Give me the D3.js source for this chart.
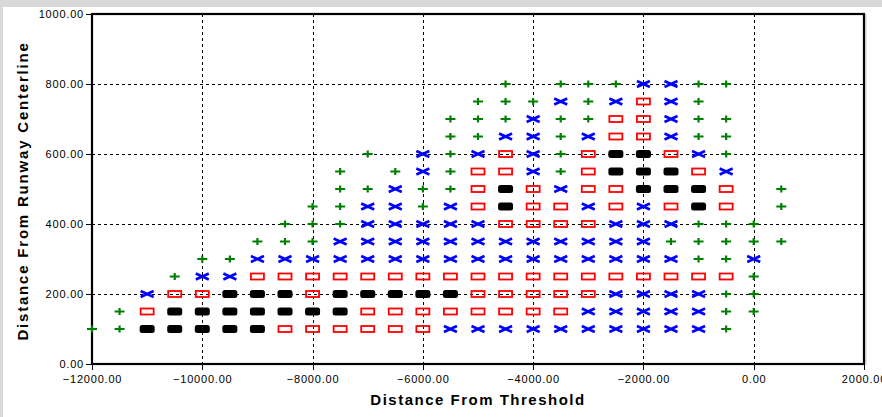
<!DOCTYPE html>
<html>
<head>
<meta charset="utf-8">
<script src="https://cdn.jsdelivr.net/npm/d3@7"></script>
<style>
  body { margin: 0; background: #fff; }
  svg { display: block; }
</style>
</head>
<body>
<svg width="882" height="417"></svg>
<script>
// column positions (distance from threshold) and row positions (distance from centerline)
var xValues = [-12000, -11500, -11000, -10500, -10000, -9500, -9000, -8500, -8000, -7500,
               -7000, -6500, -6000, -5500, -5000, -4500, -4000, -3500, -3000, -2500,
               -2000, -1500, -1000, -500, 0, 500];
var yValues = [100, 150, 200, 250, 300, 350, 400, 450, 500, 550, 600, 650, 700, 750, 800];

// one code per column: + green, x blue, o red box, b black, . empty
var rowCodes = [
    "++bbbbbooooooxxxxxxxxxx+..",
    ".+obbbbbbbooooooooxxxxx++.",
    "..xoobbbobbbbboooooxxxx++.",
    "...+xxoooooooooooooooooo+.",
    "....++xxxxxxxxxxxxxxxx++x.",
    "......+++xxxxxxxxxxxx+++++",
    ".......+++xxxxxooooxxx+++.",
    "........++xx+xobooxoxobo.+",
    ".........++x++oboxoobbbo.+",
    ".........+.+x+oox+obbbox..",
    "..........+.x+xox+obbox+..",
    ".............++xx+xoox++..",
    ".............+++x++oox++..",
    "..............+++x+xox+...",
    "...............+.+++xx++.."
];

var xTicks = [-12000, -10000, -8000, -6000, -4000, -2000, 0, 2000];
var yTicks = [0, 200, 400, 600, 800, 1000];

function main() {
    var svg = d3.select("svg");

    // grey window edges
    svg.append("rect").attr("x", 0).attr("y", 0).attr("width", 882).attr("height", 7).attr("fill", "#d9d9d9");
    svg.append("rect").attr("x", 0).attr("y", 0).attr("width", 3).attr("height", 417).attr("fill", "#d9d9d9");

    var left = 92, right = 864, top = 14, bottom = 364;
    var x = d3.scaleLinear().domain([-12000, 2000]).range([left, right]);
    var y = d3.scaleLinear().domain([0, 1000]).range([bottom, top]);

    // dashed grid
    var g = svg.append("g").attr("shape-rendering", "crispEdges");
    g.selectAll(".vgrid").data(xTicks.slice(1, -1)).enter().append("line")
        .attr("x1", function(d){ return Math.round(x(d)) + 0.5; }).attr("x2", function(d){ return Math.round(x(d)) + 0.5; })
        .attr("y1", top).attr("y2", bottom)
        .attr("stroke", "#000").attr("stroke-width", 1).attr("stroke-dasharray", "3,3");
    g.selectAll(".hgrid").data(yTicks.slice(1, -1)).enter().append("line")
        .attr("x1", left).attr("x2", right)
        .attr("y1", function(d){ return Math.round(y(d)) + 0.5; }).attr("y2", function(d){ return Math.round(y(d)) + 0.5; })
        .attr("stroke", "#000").attr("stroke-width", 1).attr("stroke-dasharray", "3,3");

    // axes
    var fmt = d3.format(".2f");
    var xAxis = svg.append("g").attr("transform", "translate(0," + bottom + ")")
        .call(d3.axisBottom(x).tickValues(xTicks).tickFormat(fmt).tickSize(6).tickPadding(5));
    var yAxis = svg.append("g").attr("transform", "translate(" + left + ",0)")
        .call(d3.axisLeft(y).tickValues(yTicks).tickFormat(fmt).tickSize(6).tickPadding(2));
    [xAxis, yAxis].forEach(function(a){
        a.select(".domain").remove();
        a.selectAll("text").attr("font-family", "Liberation Sans, Arial, sans-serif")
            .attr("font-size", "11px").attr("letter-spacing", "0.8px").attr("fill", "#000");
        a.selectAll("line").attr("stroke", "#000").attr("shape-rendering", "crispEdges");
    });

    // frame
    svg.append("line").attr("x1", right + 2).attr("x2", right + 2).attr("y1", top).attr("y2", bottom + 1)
        .attr("stroke", "#c8c8c8").attr("stroke-width", 1);
    svg.append("rect").attr("x", left).attr("y", top).attr("width", right - left).attr("height", bottom - top)
        .attr("fill", "none").attr("stroke", "#000").attr("stroke-width", 2.2);

    // markers
    var pts = [];
    rowCodes.forEach(function(row, i){
        for (var j = 0; j < xValues.length; j++) {
            var c = row.charAt(j);
            if (c && c !== ".") pts.push({ x: xValues[j], y: yValues[i], t: c });
        }
    });

    var m = svg.append("g");
    pts.forEach(function(d){
        var cx = x(d.x), cy = y(d.y);
        var s = m.append("g").attr("transform", "translate(" + cx + "," + cy + ")");
        if (d.t === "+") {
            s.append("path").attr("d", "M-5,0H5M0,-3.5V3.5")
                .attr("stroke", "#008000").attr("stroke-width", 2.2).attr("fill", "none");
        } else if (d.t === "x") {
            s.append("path").attr("d", "M-6.5,-3L6.5,3M-6.5,3L6.5,-3")
                .attr("stroke", "#0000ff").attr("stroke-width", 2.6).attr("fill", "none");
        } else if (d.t === "o") {
            s.append("rect").attr("x", -6.5).attr("y", -3).attr("width", 13).attr("height", 6)
                .attr("fill", "none").attr("stroke", "#ff0000").attr("stroke-width", 1.8);
        } else if (d.t === "b") {
            s.append("rect").attr("x", -7.5).attr("y", -4).attr("width", 15).attr("height", 8)
                .attr("rx", 2.5).attr("fill", "#000");
        }
    });

    // axis titles
    svg.append("text").attr("x", (left + right) / 2).attr("y", 405)
        .attr("text-anchor", "middle").attr("font-family", "Liberation Sans, Arial, sans-serif")
        .attr("font-weight", "bold").attr("font-size", "15px").attr("letter-spacing", "1.5px")
        .text("Distance From Threshold");
    svg.append("text").attr("transform", "translate(28,191) rotate(-90)")
        .attr("text-anchor", "middle").attr("font-family", "Liberation Sans, Arial, sans-serif")
        .attr("font-weight", "bold").attr("font-size", "15px").attr("letter-spacing", "1.8px")
        .text("Distance From Runway Centerline");
}

main();
</script>
</body>
</html>
